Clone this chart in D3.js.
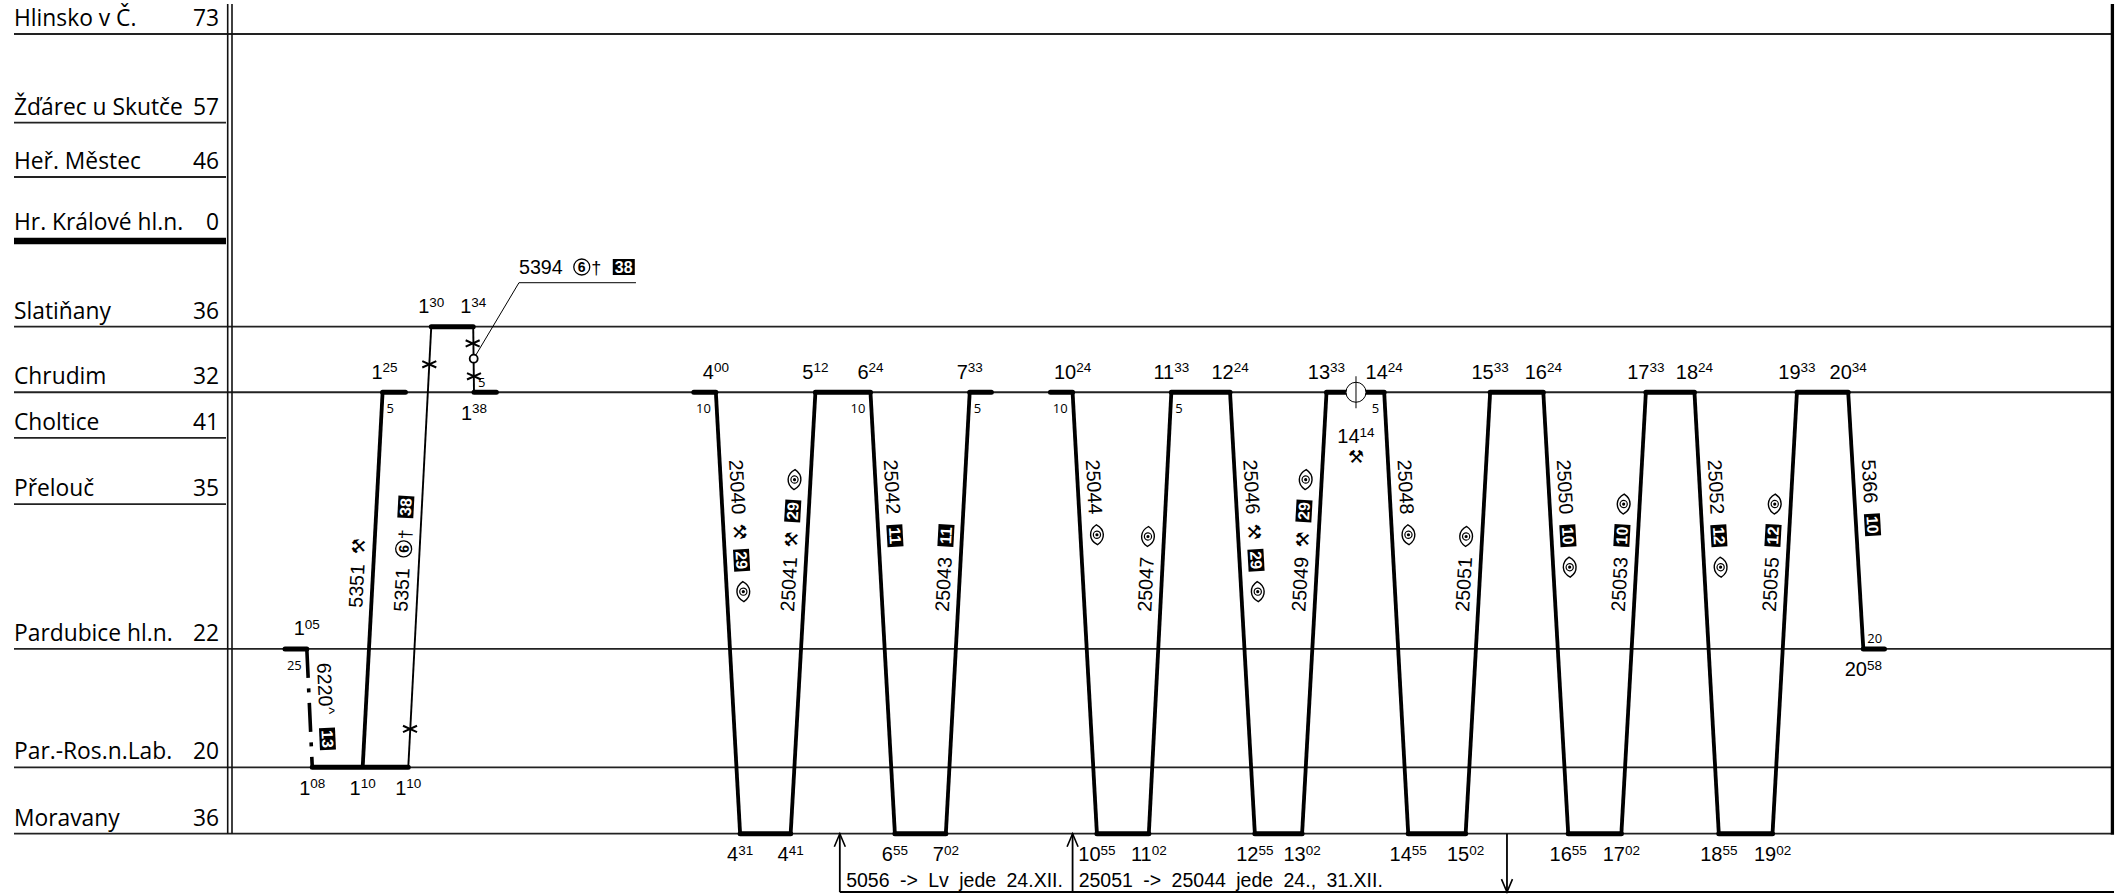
<!DOCTYPE html>
<html>
<head>
<meta charset="utf-8">
<title>Graf 031</title>
<script src="https://cdn.jsdelivr.net/npm/d3@7"></script>
<style>
  html, body { margin: 0; background: #fff; }
  svg { display: block; }
  text { fill: #000; }
</style>
</head>
<body>
<div id="chart"></div>
<script>
// Stations, top to bottom. Position is percent of the Hlinsko - Moravany height.
var stationNames = ['Hlinsko v Č.', 'Žďárec u Skutče', 'Heř. Městec', 'Hr. Králové hl.n.', 'Slatiňany', 'Chrudim', 'Choltice', 'Přelouč', 'Pardubice hl.n.', 'Par.-Ros.n.Lab.', 'Moravany'];
var stationNumbers = [73, 57, 46, 0, 36, 32, 41, 35, 22, 20, 36];
var stationPos = [0, 11.09, 17.88, 25.89, 36.6, 44.8, 50.5, 58.8, 76.9, 91.7, 100];
var throughStations = ['Hlinsko v Č.', 'Slatiňany', 'Chrudim', 'Pardubice hl.n.', 'Par.-Ros.n.Lab.', 'Moravany'];
var junctionStation = 'Hr. Králové hl.n.';

var SLA = 'Slatiňany', CHR = 'Chrudim', PAR = 'Pardubice hl.n.', ROS = 'Par.-Ros.n.Lab.', MOR = 'Moravany';

// Runs: from, chart minute, to, chart minute, weight, label items.
// H = hammers, E = eye, S = circled six with cross, number = black box.
var runs = [
  [PAR, 94.7, ROS, 101.6, 'dash', ['6220', '^', 13]],
  [ROS, 165.4, CHR, 190.6, 'thick', ['5351', 'H']],
  [ROS, 223.1, SLA, 252.2, 'thin', ['5351', 'S', 38]],
  [SLA, 305.3, CHR, 306.3, 'thin', []],
  [CHR, 612.4, MOR, 643.1, 'thick', ['25040', 'H', 29, 'E']],
  [MOR, 707.1, CHR, 738.4, 'thick', ['25041', 'H', 29, 'E']],
  [CHR, 808.1, MOR, 839, 'thick', ['25042', 11]],
  [MOR, 903.5, CHR, 933.7, 'thick', ['25043', 11]],
  [CHR, 1063.9, MOR, 1094.7, 'thick', ['25044', 'E']],
  [MOR, 1160.4, CHR, 1188.9, 'thick', ['25047', 'E']],
  [CHR, 1263.2, MOR, 1294.6, 'thick', ['25046', 'H', 29, 'E']],
  [MOR, 1354.4, CHR, 1385.3, 'thick', ['25049', 'H', 29, 'E']],
  [CHR, 1458.3, MOR, 1488.7, 'thick', ['25048', 'E']],
  [MOR, 1561.4, CHR, 1592.4, 'thick', ['25051', 'E']],
  [CHR, 1659.7, MOR, 1691.2, 'thick', ['25050', 10, 'E']],
  [MOR, 1758.5, CHR, 1789.5, 'thick', ['25053', 10, 'E']],
  [CHR, 1851, MOR, 1881.8, 'thick', ['25052', 12, 'E']],
  [MOR, 1949.8, CHR, 1980.7, 'thick', ['25055', 12, 'E']],
  [CHR, 2045.6, PAR, 2064.7, 'thick', ['5366', 10]]
];

// Dwell and stub bars on the station lines: station, from, to.
var dwells = [
  [PAR, 67.1, 94.7], [ROS, 101.6, 223.1], [CHR, 190.6, 219.5], [SLA, 252.2, 305.3], [CHR, 306.3, 334.6],
  [CHR, 584.5, 612.4], [MOR, 643.1, 707.1], [CHR, 738.4, 808.1], [MOR, 839, 903.5], [CHR, 933.7, 961.1],
  [CHR, 1035.9, 1063.9], [MOR, 1094.7, 1160.4], [CHR, 1188.9, 1263.2], [MOR, 1294.6, 1354.4], [CHR, 1385.3, 1458.3],
  [MOR, 1488.7, 1561.4], [CHR, 1592.4, 1659.7], [MOR, 1691.2, 1758.5], [CHR, 1789.5, 1851], [MOR, 1881.8, 1949.8],
  [CHR, 1980.7, 2045.6], [PAR, 2064.7, 2091.5]
];

// Times: hour, minute, station, chart minute, a = above / b = below / c = further below.
var times = [
  [1, '05', PAR, 94.7, 'a'], [1, '08', ROS, 101.6, 'b'], [1, '10', ROS, 165.4, 'b'], [1, '10', ROS, 223.1, 'b'],
  [1, '25', CHR, 193, 'a'], [1, '30', SLA, 252.2, 'a'], [1, '34', SLA, 305.3, 'a'], [1, '38', CHR, 306.3, 'b'],
  [4, '00', CHR, 612.4, 'a'], [4, '31', MOR, 643.1, 'b'], [4, '41', MOR, 707.1, 'b'], [5, '12', CHR, 738.4, 'a'],
  [6, '24', CHR, 808.1, 'a'], [6, '55', MOR, 839, 'b'], [7, '02', MOR, 903.5, 'b'], [7, '33', CHR, 933.7, 'a'],
  [10, '24', CHR, 1063.9, 'a'], [10, '55', MOR, 1094.7, 'b'], [11, '02', MOR, 1160.4, 'b'], [11, '33', CHR, 1188.9, 'a'],
  [12, '24', CHR, 1263.2, 'a'], [12, '55', MOR, 1294.6, 'b'], [13, '02', MOR, 1354.4, 'b'], [13, '33', CHR, 1385.3, 'a'],
  [14, '14', CHR, 1422.6, 'c'], [14, '24', CHR, 1458.3, 'a'], [14, '55', MOR, 1488.7, 'b'], [15, '02', MOR, 1561.4, 'b'],
  [15, '33', CHR, 1592.4, 'a'], [16, '24', CHR, 1659.7, 'a'], [16, '55', MOR, 1691.2, 'b'], [17, '02', MOR, 1758.5, 'b'],
  [17, '33', CHR, 1789.5, 'a'], [18, '24', CHR, 1851, 'a'], [18, '55', MOR, 1881.8, 'b'], [19, '02', MOR, 1949.8, 'b'],
  [19, '33', CHR, 1980.7, 'a'], [20, '34', CHR, 2045.6, 'a'], [20, '58', PAR, 2064.7, 'b']
];

// Small running time figures: text, station, chart minute, l = below left / r = below right / u = above right.
var runTimes = [
  ['25', PAR, 94.7, 'l'], ['5', CHR, 190.6, 'r'], ['5', CHR, 306.3, 'u'], ['10', CHR, 612.4, 'l'], ['10', CHR, 808.1, 'l'],
  ['5', CHR, 933.7, 'r'], ['10', CHR, 1063.9, 'l'], ['5', CHR, 1188.9, 'r'], ['5', CHR, 1458.3, 'l'], ['20', PAR, 2064.7, 'u']
];

// Crosses on the thin run: chart minute, height percent.
var crosses = [[249.7, 41.3], [225.3, 86.9], [304.6, 38.7], [306.3, 42.8]];

// Leader of train 5394.
var leaderTrain = ['5394', 'S', 38];
var leaderPoints = [[305.9, 40.6], [363.2, 31.1], [511.3, 31.1]];

// Crossing symbol at Chrudim and the hammers under the time 14 14.
var crossingMinute = 1422.6;

// Footnote arrows: chart minute, direction. Notes: text, chart minute.
var arrows = [[769.3, 'up'], [1063.9, 'up'], [1613.7, 'down']];
var notes = [['5056 -> Lv jede 24.XII.', 777.3], ['25051 -> 25044 jede 24., 31.XII.', 1071.6]];
var noteBottom = 107.3;

var width = 2116, height = 894;
var LEFT = 14, RULE = 226;
var SANS = '"Liberation Sans", Arial, sans-serif';
var NAME = '"Open Sans", sans-serif';
var SYMBOL = '"DejaVu Sans", sans-serif';

var svg = d3.select('#chart').append('svg').attr('width', width).attr('height', height);

var x = d3.scaleLinear().domain([0, 2382]).range([232, 2114]);
var y = d3.scaleLinear().domain([0, 100]).range([34, 833.7]);
var stationY = d3.scaleOrdinal().domain(stationNames).range(stationPos.map(function(p) { return y(p); }));

// Station table and grid
stationNames.forEach(function(name, i) {
  var yy = stationY(name);
  var through = throughStations.indexOf(name) >= 0;
  var major = name === junctionStation;
  var above = major ? 11 : 8;
  svg.append('line')
    .attr('x1', LEFT).attr('x2', through ? x.range()[1] - 3 : RULE)
    .attr('y1', yy).attr('y2', yy)
    .attr('stroke', major ? '#000' : '#222')
    .attr('stroke-width', major ? 6.6 : 1.8);
  svg.append('text').text(name)
    .attr('x', LEFT).attr('y', yy - above)
    .style('font', '22.8px ' + NAME);
  svg.append('text').text(stationNumbers[i])
    .attr('x', 219).attr('y', yy - above)
    .attr('text-anchor', 'end')
    .style('font', '22.8px ' + NAME);
});

[227.7, 232].forEach(function(xx) {
  svg.append('line').attr('x1', xx).attr('x2', xx)
    .attr('y1', 4).attr('y2', y(100))
    .attr('stroke', '#111').attr('stroke-width', 1.6);
});
svg.append('line').attr('x1', 2112.4).attr('x2', 2112.4)
  .attr('y1', 4).attr('y2', y(100) + 1)
  .attr('stroke', '#000').attr('stroke-width', 3.3);

// Dwell bars
svg.append('g').selectAll('line').data(dwells).join('line')
  .attr('x1', function(d) { return x(d[1]); })
  .attr('x2', function(d) { return x(d[2]); })
  .attr('y1', function(d) { return stationY(d[0]); })
  .attr('y2', function(d) { return stationY(d[0]); })
  .attr('stroke', '#000').attr('stroke-width', 5).attr('stroke-linecap', 'round');

// Train runs
var runWidth = { thick: 3.8, thin: 1.9, dash: 3.6 };
svg.append('g').selectAll('line').data(runs).join('line')
  .attr('x1', function(d) { return x(d[1]); })
  .attr('y1', function(d) { return stationY(d[0]); })
  .attr('x2', function(d) { return x(d[3]); })
  .attr('y2', function(d) { return stationY(d[2]); })
  .attr('stroke', '#000')
  .attr('stroke-width', function(d) { return runWidth[d[4]]; })
  .attr('stroke-dasharray', function(d) { return d[4] === 'dash' ? '29 10.5 4 10.5' : null; });

function drawHammers(g, cx) {
  g.append('text').text('\u2692')
    .attr('x', cx).attr('y', -0.5)
    .attr('text-anchor', 'middle')
    .style('font', '18px ' + SYMBOL);
}

function drawEye(g, cx) {
  var e = g.append('g').attr('transform', 'translate(' + cx + ',-7)');
  e.append('path')
    .attr('d', 'M-10,0 C-5,-8.5 5,-8.5 10,0 C5,8.5 -5,8.5 -10,0 Z')
    .attr('fill', 'none').attr('stroke', '#000').attr('stroke-width', 1.4);
  e.append('circle').attr('r', 3.6)
    .attr('fill', 'none').attr('stroke', '#000').attr('stroke-width', 1.2);
  e.append('circle').attr('r', 1.6).attr('fill', '#000');
}

function drawBox(g, cx, n) {
  g.append('rect')
    .attr('x', cx - 11).attr('y', -15)
    .attr('width', 22).attr('height', 16)
    .attr('fill', '#000');
  g.append('text').text(n)
    .attr('x', cx).attr('y', -1.5)
    .attr('text-anchor', 'middle')
    .style('font', 'bold 16px ' + SANS)
    .style('fill', '#fff');
}

// Circled six followed by the cross
function drawSpecial(g, left) {
  g.append('circle').attr('cx', left + 8.5).attr('cy', -7).attr('r', 8)
    .attr('fill', 'none').attr('stroke', '#000').attr('stroke-width', 1.3);
  g.append('text').text('6').attr('x', left + 8.5).attr('y', -2)
    .attr('text-anchor', 'middle')
    .style('font', 'bold 14px ' + SANS);
  g.append('text').text('\u2020').attr('x', left + 18).attr('y', 0)
    .style('font', '18px ' + SANS);
}

// Lays a train number and its symbols one after the other along local x
function drawItems(g, items) {
  var pos = 0;
  var gap = 10.5;
  items.forEach(function(item, i) {
    if (i === 0) {
      var t = g.append('text').text(item).attr('x', 0).attr('y', 0)
        .style('font', '19.7px ' + SANS);
      pos = t.node().getComputedTextLength();
    } else if (item === '^') {
      g.append('text').text('^').attr('x', pos + 1).attr('y', -5)
        .style('font', '15px ' + SANS);
      pos += 11;
    } else if (item === 'H') {
      drawHammers(g, pos + gap + 7);
      pos += gap + 14;
    } else if (item === 'E') {
      drawEye(g, pos + gap + 10);
      pos += gap + 20;
    } else if (item === 'S') {
      drawSpecial(g, pos + gap);
      pos += gap + 29;
    } else {
      drawBox(g, pos + gap + 11, item);
      pos += gap + 22;
    }
  });
}

// Train labels follow the slope of their run
var startDown = 460, startUp = 612;
runs.forEach(function(r) {
  if (!r[5].length) return;
  var x0 = x(r[1]), y0 = stationY(r[0]), x1 = x(r[3]), y1 = stationY(r[2]);
  var down = y1 > y0;
  var start = down ? (r[0] === PAR ? 663 : startDown) : (r[2] === CHR && r[0] === ROS ? startUp - 4 : startUp);
  var lineX = x0 + (start - y0) * (x1 - x0) / (y1 - y0);
  var off = down ? 9.5 : -9;
  var angle = Math.atan2(y1 - y0, x1 - x0) * 180 / Math.PI;
  var g = svg.append('g')
    .attr('transform', 'translate(' + (lineX + off) + ',' + start + ') rotate(' + angle + ')');
  drawItems(g, r[5]);
});

// Crosses on the thin run
svg.append('g').selectAll('path').data(crosses).join('path')
  .attr('d', function(d) {
    var cx = x(d[0]), cy = y(d[1]);
    return 'M' + (cx - 7) + ',' + (cy - 3.2) + 'L' + (cx + 7) + ',' + (cy + 3.2) +
      'M' + (cx - 7) + ',' + (cy + 3.2) + 'L' + (cx + 7) + ',' + (cy - 3.2);
  })
  .attr('fill', 'none').attr('stroke', '#000').attr('stroke-width', 2);

// Leader to the label of train 5394
svg.append('path')
  .attr('d', d3.line().x(function(d) { return x(d[0]); }).y(function(d) { return y(d[1]); })(leaderPoints))
  .attr('fill', 'none').attr('stroke', '#000').attr('stroke-width', 1);
svg.append('circle')
  .attr('cx', x(leaderPoints[0][0])).attr('cy', y(leaderPoints[0][1])).attr('r', 4)
  .attr('fill', '#fff').attr('stroke', '#000').attr('stroke-width', 1.8);
drawItems(svg.append('g')
  .attr('transform', 'translate(' + x(leaderPoints[1][0]) + ',' + (y(leaderPoints[1][1]) - 8.7) + ')'), leaderTrain);

// Crossing symbol
var crossX = x(crossingMinute), crossY = stationY(CHR);
svg.append('circle').attr('cx', crossX).attr('cy', crossY).attr('r', 10)
  .attr('fill', '#fff').attr('stroke', '#000').attr('stroke-width', 1);
svg.append('line').attr('x1', crossX).attr('x2', crossX)
  .attr('y1', crossY - 16).attr('y2', crossY + 16)
  .attr('stroke', '#000').attr('stroke-width', 1);
drawHammers(svg.append('g').attr('transform', 'translate(0,' + (crossY + 71) + ')'), crossX);

// Time labels
var timeOffset = { a: -13.6, b: 27.3, c: 51 };
var timeLabels = svg.append('g').selectAll('text').data(times).join('text')
  .attr('x', function(d) { return x(d[3]); })
  .attr('y', function(d) { return stationY(d[2]) + timeOffset[d[4]]; })
  .attr('text-anchor', 'middle')
  .style('font', '20px ' + SANS);
timeLabels.append('tspan').text(function(d) { return d[0]; });
timeLabels.append('tspan').text(function(d) { return d[1]; })
  .attr('dy', -6.5)
  .style('font-size', '13.5px');

// Small running times
var runStyle = {
  l: { dx: -5, dy: 21, anchor: 'end' },
  r: { dx: 4, dy: 21, anchor: 'start' },
  u: { dx: 4, dy: -5.5, anchor: 'start' }
};
svg.append('g').selectAll('text').data(runTimes).join('text')
  .text(function(d) { return d[0]; })
  .attr('x', function(d) { return x(d[2]) + runStyle[d[3]].dx; })
  .attr('y', function(d) { return stationY(d[1]) + runStyle[d[3]].dy; })
  .attr('text-anchor', function(d) { return runStyle[d[3]].anchor; })
  .style('font', '13px ' + NAME);

// Footnotes with arrows
var footY = y(noteBottom);
svg.append('line')
  .attr('x1', x(arrows[0][0])).attr('x2', x.range()[1])
  .attr('y1', footY).attr('y2', footY)
  .attr('stroke', '#000').attr('stroke-width', 2);
arrows.forEach(function(a) {
  var ax = x(a[0]), top = y(100);
  svg.append('line').attr('x1', ax).attr('x2', ax).attr('y1', top).attr('y2', footY)
    .attr('stroke', '#000').attr('stroke-width', 1.8);
  var tip = a[1] === 'up' ? top : footY;
  var dir = a[1] === 'up' ? 1 : -1;
  svg.append('path')
    .attr('d', 'M' + (ax - 5.5) + ',' + (tip + dir * 13) + 'L' + ax + ',' + tip + 'L' + (ax + 5.5) + ',' + (tip + dir * 13))
    .attr('fill', 'none').attr('stroke', '#000').attr('stroke-width', 1.6);
});
svg.append('g').selectAll('text').data(notes).join('text')
  .text(function(d) { return d[0]; })
  .attr('x', function(d) { return x(d[1]); })
  .attr('y', footY - 5)
  .style('font', '19.5px ' + SANS)
  .style('word-spacing', '5px');
</script>
</body>
</html>
